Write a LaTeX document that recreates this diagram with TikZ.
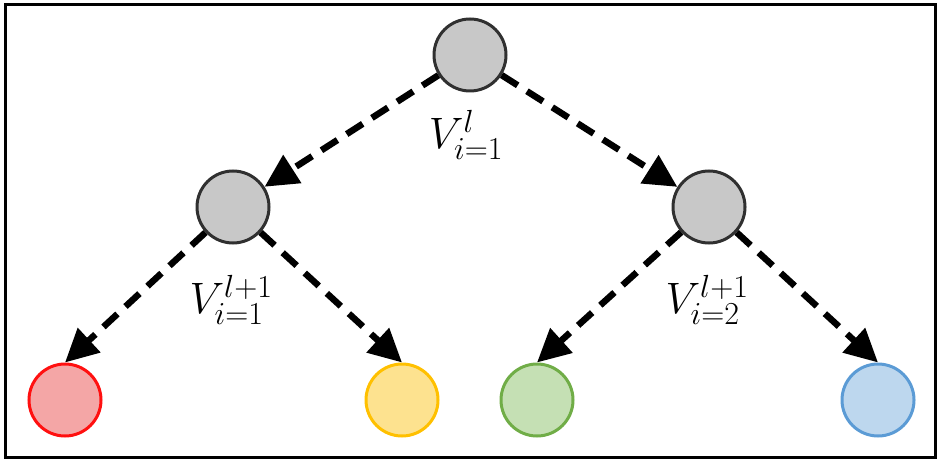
\RequirePackage{fix-cm}
\documentclass[tikz,border=0pt]{standalone}
\usetikzlibrary{arrows.meta}
\DeclareMathSizes{44}{44}{32}{24}
\definecolor{gfill}{HTML}{C8C8C8}
\definecolor{gdraw}{HTML}{303030}
\definecolor{rfill}{HTML}{F4A6A6}
\definecolor{rdraw}{HTML}{FF1010}
\definecolor{yfill}{HTML}{FDE28F}
\definecolor{ydraw}{HTML}{FFC000}
\definecolor{grfill}{HTML}{C5E0B4}
\definecolor{grdraw}{HTML}{70AD47}
\definecolor{bfill}{HTML}{BDD7EE}
\definecolor{bdraw}{HTML}{5B9BD5}
\begin{document}
\begin{tikzpicture}[x=1pt,y=-1pt,
  vert/.style={circle,minimum size=72pt,inner sep=0pt,line width=3pt},
  graynode/.style={vert,draw=gdraw,fill=gfill},
  arr/.style={line width=6.5pt,dash pattern=on 19pt off 11pt,-{Triangle[length=33pt,width=32pt]}},
  lab/.style={font=\fontsize{44}{52}\selectfont,inner sep=0pt}]
\useasboundingbox (0,0) rectangle (941,462);
\draw[line width=3pt] (5,5) rectangle (935,457);
\node[graynode] (top) at (470,55) {};
\node[graynode] (lm) at (233,207) {};
\node[graynode] (rm) at (709,207) {};
\node[vert,draw=rdraw,fill=rfill] (r) at (65,400) {};
\node[vert,draw=ydraw,fill=yfill] (y) at (402,400) {};
\node[vert,draw=grdraw,fill=grfill] (g) at (537,400) {};
\node[vert,draw=bdraw,fill=bfill] (b) at (878,400) {};
\draw[arr] (top) -- (lm);
\draw[arr] (top) -- (rm);
\draw[arr] (lm) -- (r.north);
\draw[arr] (lm) -- (y.north);
\draw[arr] (rm) -- (g.north);
\draw[arr] (rm) -- (b.north);
\node[lab] (l1) at (466,135) {$V_{i=1}^{l}$};
\node[lab] (l2) at (231,300) {$V_{i=1}^{l+1}$};
\node[lab] (l3) at (707,300) {$V_{i=2}^{l+1}$};
\end{tikzpicture}
\end{document}
